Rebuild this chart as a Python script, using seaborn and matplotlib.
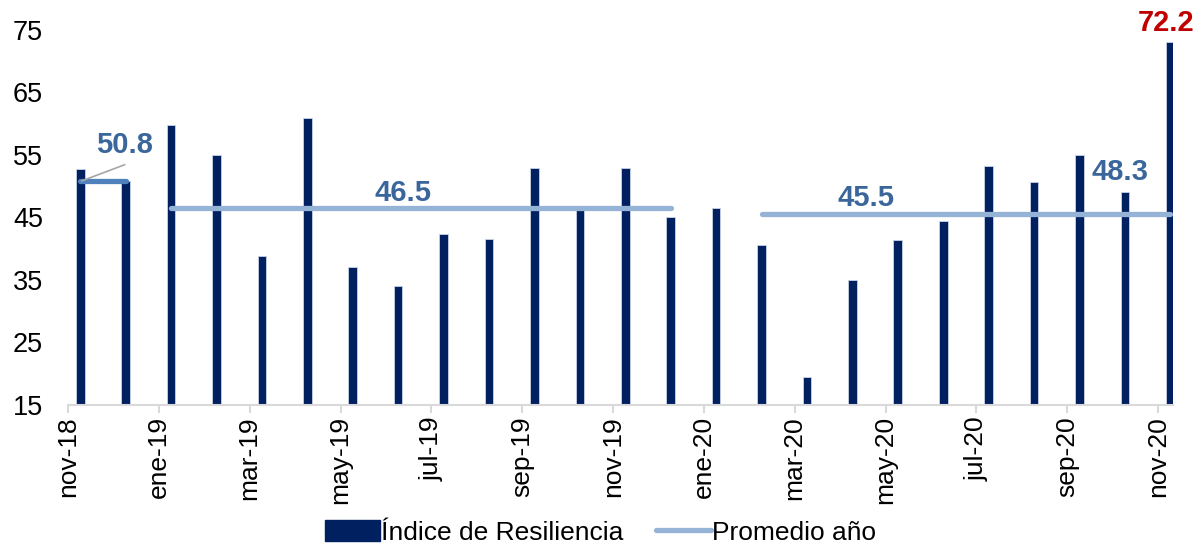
import numpy as np
import pandas as pd
import matplotlib
matplotlib.use("Agg")
import matplotlib.pyplot as plt
import seaborn as sns
from matplotlib.patches import Patch
from matplotlib.lines import Line2D


meses = ["nov-18", "dic-18", "ene-19", "feb-19", "mar-19", "abr-19", "may-19",
         "jun-19", "jul-19", "ago-19", "sep-19", "oct-19", "nov-19", "dic-19",
         "ene-20", "feb-20", "mar-20", "abr-20", "may-20", "jun-20", "jul-20",
         "ago-20", "sep-20", "oct-20", "nov-20"]
indice = [52.7, 50.8, 59.8, 54.9, 38.8, 60.8, 37.1, 34.0, 42.4, 41.6, 52.9,
          46.2, 52.9, 45.1, 46.5, 40.6, 19.4, 35.0, 41.4, 44.4, 53.2, 50.7,
          55.0, 49.0, 73.0]

# promedio anual: valor, mes inicial, mes final
promedio_valor = [50.8, 46.5, 45.5]
promedio_inicio = ["nov-18", "ene-19", "feb-20"]
promedio_fin = ["dic-18", "dic-19", "nov-20"]
promedio_color = ["#4f81bd", "#95b3d7", "#95b3d7"]

etiquetas_ticks = meses[::2]

df = pd.DataFrame({"mes": meses, "indice": indice})

sns.set_style("white")
plt.rcParams["font.family"] = ["Liberation Sans", "DejaVu Sans"]
plt.rcParams["text.color"] = "black"
plt.rcParams["xtick.labelcolor"] = "black"
plt.rcParams["ytick.labelcolor"] = "black"

fig = plt.figure(figsize=(12.01, 5.44), dpi=100)
ax = fig.add_axes([68 / 1201, 1 - 405 / 544, (1173 - 68) / 1201, (405 - 29.5) / 544])

sns.barplot(data=df, x="mes", y="indice", order=meses, color="#002060",
            saturation=1, width=0.19, edgecolor="#c9d3e6", linewidth=0.6, ax=ax)

for v, a, b, c in zip(promedio_valor, promedio_inicio, promedio_fin, promedio_color):
    ax.plot([meses.index(a), meses.index(b)], [v, v], color=c, lw=3.8,
            solid_capstyle="round", zorder=3)

azul = "#3a669c"
ax.plot([0.03, 0.98], [50.8, 53.4], color="#a6a6a6", lw=1.2, zorder=4)
ax.text(0.98, 54.3, "50.8", color=azul, fontsize=21, fontweight="bold",
        ha="center", va="bottom")
ax.text(7.1, 48.9, "46.5", color=azul, fontsize=21, fontweight="bold",
        ha="center", va="center")
ax.text(17.3, 48.0, "45.5", color=azul, fontsize=21, fontweight="bold",
        ha="center", va="center")
ax.text(22.9, 52.3, "48.3", color=azul, fontsize=21, fontweight="bold",
        ha="center", va="center")
ax.text(23.9, 76.0, "72.2", color="#c00000", fontsize=21, fontweight="bold",
        ha="center", va="center", clip_on=False)

ax.set_ylim(15, 75)
ax.set_yticks(range(15, 76, 10))
ax.set_xlim(-0.27, 24.06)
ax.set_xticks(np.arange(0, len(meses), 2) - 0.27)
ax.set_xticklabels(etiquetas_ticks, rotation=90)
ax.set_xlabel("")
ax.set_ylabel("")

for s in ["top", "right", "left"]:
    ax.spines[s].set_visible(False)
ax.spines["bottom"].set_color("#d9d9d9")
ax.spines["bottom"].set_linewidth(1.5)
ax.tick_params(axis="x", length=6, width=1.5, color="#d9d9d9", pad=2,
               labelsize=19, labelcolor="black", bottom=True)
ax.tick_params(axis="y", length=0, pad=18, labelsize=19.5, labelcolor="black")

handles = [Patch(facecolor="#002060", edgecolor="#002060"),
           Line2D([], [], color="#95b3d7", lw=3.8, solid_capstyle="round")]
fig.legend(handles, ["Índice de Resiliencia", "Promedio año"], loc="lower center",
           bbox_to_anchor=(0.5, -0.045), ncol=2, frameon=False, fontsize=19,
           handlelength=2.1, handleheight=0.85, handletextpad=0.05,
           columnspacing=1.2, labelcolor="black")

fig.savefig("out.png", dpi=100)
